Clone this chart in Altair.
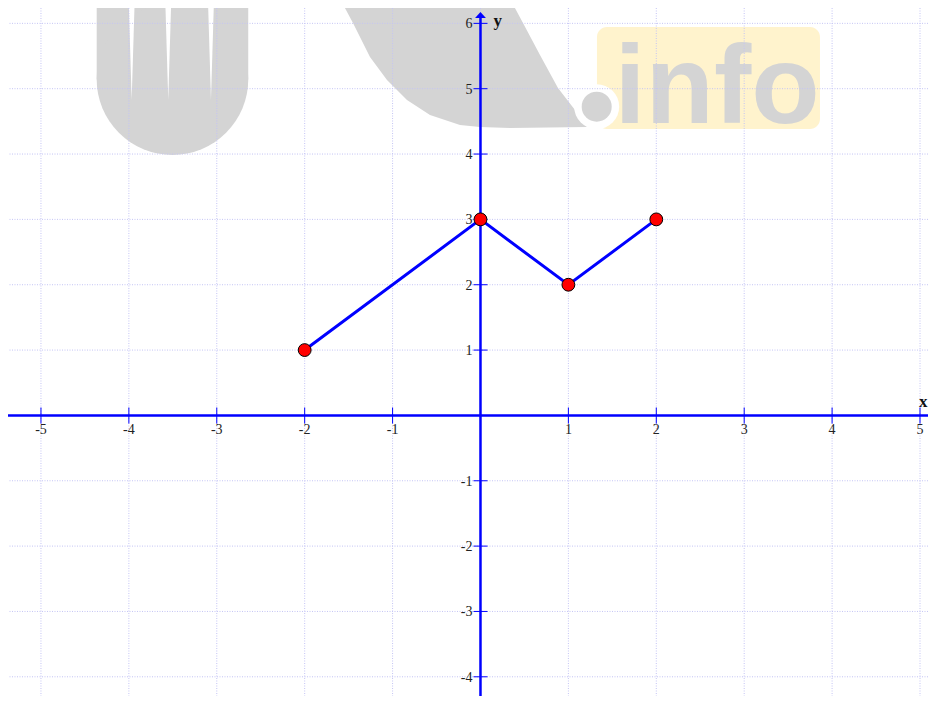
import altair as alt
import pandas as pd

# ---- chart values ----
PTS_X = [-2, 0, 1, 2]
PTS_Y = [1, 3, 2, 3]
X_TICKS = [-5, -4, -3, -2, -1, 1, 2, 3, 4, 5]
Y_TICKS = [-4, -3, -2, -1, 1, 2, 3, 4, 5, 6]
GRID_X = [-5, -4, -3, -2, -1, 0, 1, 2, 3, 4, 5]
GRID_Y = [-4, -3, -2, -1, 0, 1, 2, 3, 4, 5, 6]
X_DOMAIN = [-5.375, 5.091]
Y_DOMAIN = [-4.294, 6.235]
ARROW_Y = [6.128]
X_NAME_POS = [5.0, 0]

# ---- watermark anchors (chart units) ----
WM_SWOOSH = [-0.199, 5.439]
WM_U_X = [-4.366, -2.642]
WM_U_Y = [5.145, 6.40]
WM_U_CENTER = [-3.504, 5.145]
WM_SLIT_X = [-3.968, -3.552, -3.066]
WM_SLIT_Y = [5.592, 5.592, 5.592]
WM_BOX_X = [1.325, 3.862]
WM_BOX_Y = [4.383, 5.944]
WM_DOT = [1.322, 4.725]
WM_TEXT_POS = [1.524, 4.475]

SWOOSH_SHAPE = (
    "M-1.25,-0.65L-1.10,-0.37L-0.93,-0.03L-0.76,0.20L-0.56,0.40L-0.33,0.55L-0.03,0.65"
    "L0.17,0.67L0.47,0.68L1.24,0.67L1.12,0.50L0.95,0.28L0.77,-0.05L0.60,-0.37L0.45,-0.65Z"
)

BLUE = "#0000ff"
GRID = "#c4c4f4"
WM_GRAY = "#d4d4d4"

xs = alt.Scale(domain=X_DOMAIN, nice=False, zero=False)
ys = alt.Scale(domain=Y_DOMAIN, nice=False, zero=False)


def X(f):
    return alt.X(f, type="quantitative", scale=xs, axis=None)


def Y(f):
    return alt.Y(f, type="quantitative", scale=ys, axis=None)


# watermark
swoosh = alt.Chart(pd.DataFrame({"x": [WM_SWOOSH[0]], "y": [WM_SWOOSH[1]]})).mark_point(
    shape=SWOOSH_SHAPE, filled=True, color=WM_GRAY, opacity=1, size=40000
).encode(x=X("x"), y=Y("y"))

u_rect = alt.Chart(pd.DataFrame({"x": [WM_U_X[0]], "x2": [WM_U_X[1]], "y": [WM_U_Y[0]], "y2": [WM_U_Y[1]]})).mark_rect(
    color=WM_GRAY, clip=True
).encode(x=X("x"), x2="x2", y=Y("y"), y2="y2")

u_round = alt.Chart(pd.DataFrame({"x": [WM_U_CENTER[0]], "y": [WM_U_CENTER[1]]})).mark_circle(
    color=WM_GRAY, opacity=1, size=22983
).encode(x=X("x"), y=Y("y"))

slits = alt.Chart(pd.DataFrame({"x": WM_SLIT_X, "y": WM_SLIT_Y})).mark_point(
    shape="M-0.06,-1L0.06,-1L0,1Z", filled=True, color="white", opacity=1, size=10000, clip=True
).encode(x=X("x"), y=Y("y"))

box = alt.Chart(pd.DataFrame({"x": [WM_BOX_X[0]], "x2": [WM_BOX_X[1]], "y": [WM_BOX_Y[0]], "y2": [WM_BOX_Y[1]]})).mark_rect(
    color="#fff3cd", cornerRadius=10
).encode(x=X("x"), x2="x2", y=Y("y"), y2="y2")

dot_df = pd.DataFrame({"x": [WM_DOT[0]], "y": [WM_DOT[1]]})
ring = alt.Chart(dot_df).mark_circle(color="white", opacity=1, size=2025).encode(x=X("x"), y=Y("y"))
dot = alt.Chart(dot_df).mark_circle(color=WM_GRAY, opacity=1, size=900).encode(x=X("x"), y=Y("y"))

wm_text = alt.Chart(pd.DataFrame({"x": [WM_TEXT_POS[0]], "y": [WM_TEXT_POS[1]], "t": ["info"]})).mark_text(
    font="Liberation Sans", fontWeight="bold", fontSize=112, color=WM_GRAY, align="left", baseline="alphabetic"
).encode(x=X("x"), y=Y("y"), text="t:N")

# grid
grid_x = alt.Chart(pd.DataFrame({"x": GRID_X})).mark_rule(
    color=GRID, strokeWidth=1, strokeDash=[1, 1.5]
).encode(x=X("x"))
grid_y = alt.Chart(pd.DataFrame({"y": GRID_Y})).mark_rule(
    color=GRID, strokeWidth=1, strokeDash=[1, 1.5]
).encode(y=Y("y"))

# axes
x_axis = alt.Chart(pd.DataFrame({"y": [0]})).mark_rule(color=BLUE, strokeWidth=2.5).encode(y=Y("y"))
y_axis = alt.Chart(pd.DataFrame({"x": [0], "y": [Y_DOMAIN[0]], "y2": [ARROW_Y[0]]})).mark_rule(
    color=BLUE, strokeWidth=2.5
).encode(x=X("x"), y=Y("y"), y2="y2")
arrow = alt.Chart(pd.DataFrame({"x": [0], "y": ARROW_Y})).mark_point(
    shape="M0,-0.5L0.9,0.5L-0.9,0.5Z", filled=True, color=BLUE, opacity=1, size=144
).encode(x=X("x"), y=Y("y"))

x_ticks_df = pd.DataFrame({"x": X_TICKS, "y": [0] * len(X_TICKS), "t": [str(v) for v in X_TICKS]})
y_ticks_df = pd.DataFrame({"x": [0] * len(Y_TICKS), "y": Y_TICKS, "t": [str(v) for v in Y_TICKS]})

x_tick_marks = alt.Chart(x_ticks_df).mark_tick(
    orient="vertical", color=BLUE, size=16, thickness=1, opacity=1
).encode(x=X("x"), y=Y("y"))
y_tick_marks = alt.Chart(y_ticks_df).mark_tick(
    orient="horizontal", color=BLUE, size=14, thickness=1, opacity=1
).encode(x=X("x"), y=Y("y"))

x_labels = alt.Chart(x_ticks_df).mark_text(
    font="Liberation Serif", fontSize=14, color="#222222", align="center", baseline="top", dy=8
).encode(x=X("x"), y=Y("y"), text="t:N")
y_labels = alt.Chart(y_ticks_df).mark_text(
    font="Liberation Serif", fontSize=14, color="#222222", align="right", baseline="middle", dx=-8, dy=1
).encode(x=X("x"), y=Y("y"), text="t:N")

y_name = alt.Chart(pd.DataFrame({"x": [0], "y": [6], "t": ["y"]})).mark_text(
    font="Liberation Serif", fontSize=17, fontWeight="bold", color="#111111", align="left", baseline="alphabetic", dx=13, dy=3
).encode(x=X("x"), y=Y("y"), text="t:N")
x_name = alt.Chart(pd.DataFrame({"x": [X_NAME_POS[0]], "y": [X_NAME_POS[1]], "t": ["x"]})).mark_text(
    font="Liberation Serif", fontSize=17, fontWeight="bold", color="#111111", align="left", baseline="alphabetic", dx=-1, dy=-8
).encode(x=X("x"), y=Y("y"), text="t:N")

# data
pts_df = pd.DataFrame({"x": PTS_X, "y": PTS_Y})
line = alt.Chart(pts_df).mark_line(color=BLUE, strokeWidth=3).encode(x=X("x"), y=Y("y"), order="x:Q")
points = alt.Chart(pts_df).mark_point(
    filled=True, fill="#ff0000", stroke="#000000", strokeWidth=1, opacity=1, shape="circle", size=165
).encode(x=X("x"), y=Y("y"))

chart = alt.layer(
    swoosh, u_rect, u_round, slits, box, ring, dot, wm_text,
    grid_x, grid_y,
    x_axis, y_axis, arrow, x_tick_marks, y_tick_marks,
    x_labels, y_labels, y_name, x_name,
    line, points,
).properties(
    width=920, height=688, padding=0, autosize=alt.AutoSizeParams(type="none"), background="white"
).configure_view(strokeWidth=0)

chart.save("out.html", embed_options={"renderer": "svg", "actions": False})
